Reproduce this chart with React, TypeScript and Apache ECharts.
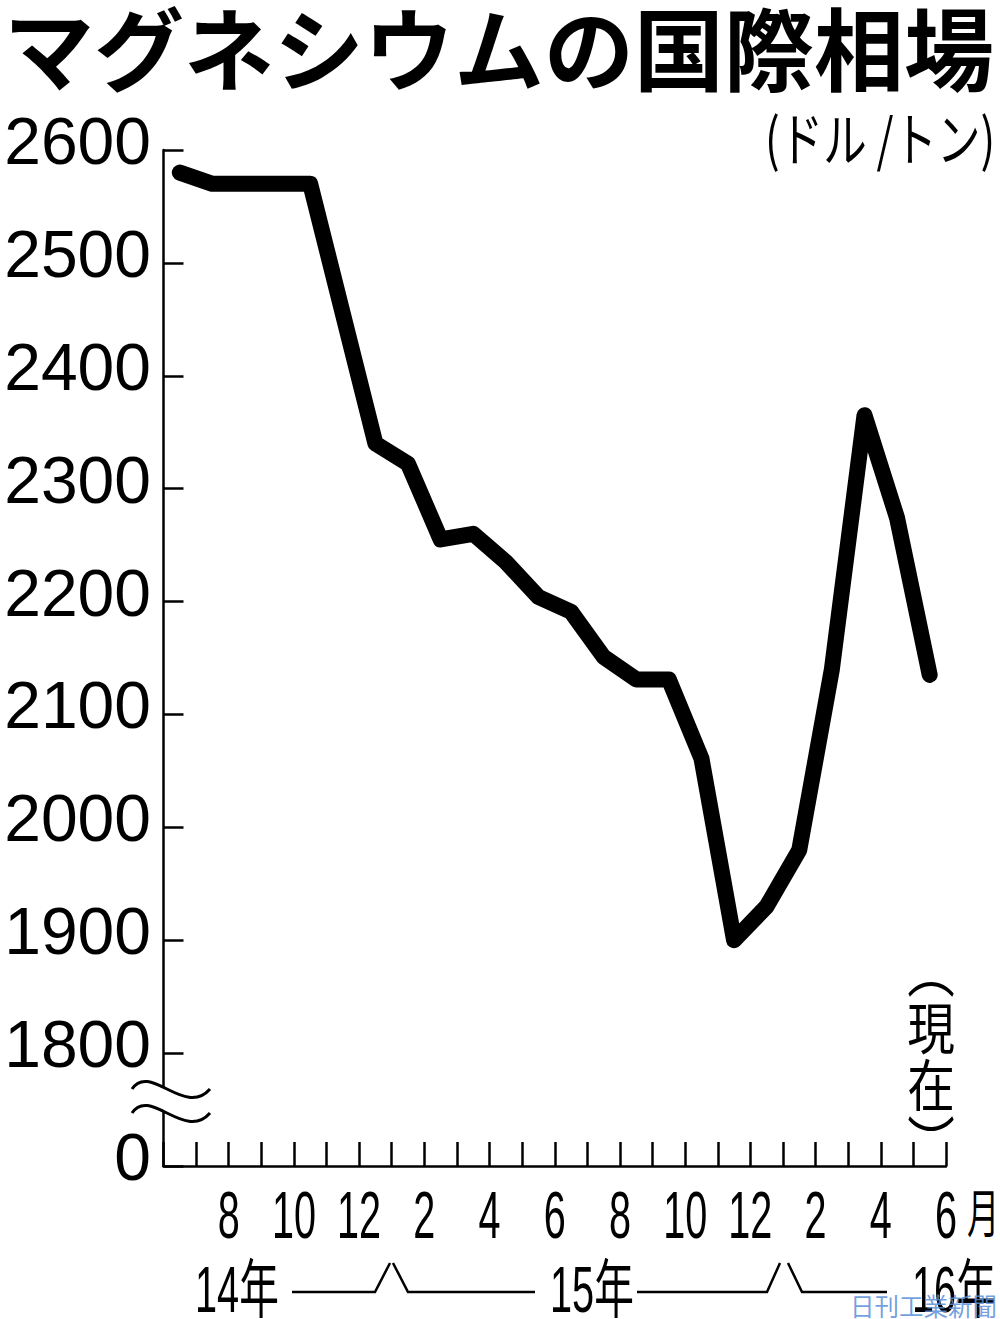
import React, { useEffect, useRef } from 'react';
import * as echarts from 'echarts';

// month index (0 = start of Jun 2014); points sit mid-month
const monthPos = [0.5, 1.5, 2.5, 3.5, 4.5, 6.5, 7.5, 8.5, 9.5, 10.5, 11.5, 12.5, 13.5, 14.5, 15.5, 16.5, 17.5, 18.5, 19.5, 20.5, 21.5, 22.5, 23.5];
const prices = [2580, 2570, 2570, 2570, 2570, 2340, 2322, 2255, 2260, 2235, 2204, 2191, 2151, 2131, 2131, 2061, 1900, 1930, 1980, 2140, 2365, 2274, 2135];
const xTickLabels = ['', '', '8', '', '10', '', '12', '', '2', '', '4', '', '6', '', '8', '', '10', '', '12', '', '2', '', '4', '', '6'];
const yTickValues = [1700, 1800, 1900, 2000, 2100, 2200, 2300, 2400, 2500, 2600];
const yBreakValue = 1700; // drawn as "0" below the axis break
const yMax = 2600;
const yStep = 100;
const title = 'マグネシウムの国際相場';
const unit = '(ドル /トン)';
const yearLabels = ['14年', '15年', '16年'];

const CJK = "'Noto Sans CJK JP', sans-serif";
const LAT = "'Liberation Sans', Arial, sans-serif";

export default function App() {
  const ref = useRef<HTMLDivElement>(null);
  useEffect(() => {
    const chart = echarts.init(ref.current!, null, { renderer: 'svg' });
    const lineW = 2.5;
    chart.setOption({
      animation: false,
      backgroundColor: '#fff',
      grid: { left: 163.5, right: 54, top: 150, bottom: 153, containLabel: false },
      xAxis: {
        type: 'value', min: 0, max: xTickLabels.length - 1, interval: 1,
        axisLine: { show: true, lineStyle: { color: '#000', width: lineW } },
        axisTick: { show: true, inside: true, length: 24, lineStyle: { color: '#000', width: lineW } },
        axisLabel: { show: false },
        splitLine: { show: false },
      },
      yAxis: {
        type: 'value', min: yBreakValue, max: yMax, interval: yStep,
        axisLine: { show: true, lineStyle: { color: '#000', width: lineW } },
        axisTick: { show: true, inside: true, length: 20, lineStyle: { color: '#000', width: lineW } },
        axisLabel: { show: false },
        splitLine: { show: false },
      },
      series: [{
        type: 'line',
        data: monthPos.map((m, i) => [m, prices[i]]),
        symbol: 'none',
        lineStyle: { color: '#000', width: 16, cap: 'round', join: 'round' },
        z: 3,
      }],
    });

    const yearText = (text: string, x: number) => ({
      type: 'text', x, y: 1290, scaleX: 0.62,
      style: { text, fontSize: 64, fontFamily: "'Liberation Sans', 'Noto Sans CJK JP', sans-serif", fill: '#000', align: 'left', verticalAlign: 'middle' },
    });
    const bracket = (pts: number[][]) => ({
      type: 'polyline', shape: { points: pts }, style: { stroke: '#000', lineWidth: lineW, fill: null },
    });
    const wave = (dy: number) => ({
      type: 'bezierCurve', z: 10,
      shape: { x1: 132, y1: 1089 + dy, cpx1: 150, cpy1: 1062 + dy, cpx2: 185, cpy2: 1118 + dy, x2: 210, y2: 1089 + dy },
      style: { stroke: '#000', lineWidth: 3, fill: null },
    });

    // axis labels placed through the axes' own scales
    const xLabelEls: any[] = [];
    xTickLabels.forEach((lab, i) => {
      if (!lab) return;
      const px = chart.convertToPixel({ xAxisIndex: 0 }, i) as number;
      xLabelEls.push({
        type: 'text', x: px, y: 1216, scaleX: 0.6,
        style: { text: lab, fontSize: 66, fontFamily: LAT, fill: '#000', align: 'center', verticalAlign: 'middle' },
      });
    });
    const yLabelEls = yTickValues.map((v) => {
      const py = chart.convertToPixel({ yAxisIndex: 0 }, v) as number;
      return {
        type: 'text', x: 151, y: py - 9,
        style: { text: v === yBreakValue ? '0' : String(v), fontSize: 66, fontFamily: LAT, fill: '#000', align: 'right', verticalAlign: 'middle' },
      };
    });

    chart.setOption({
      graphic: [
        { type: 'text', x: 4, y: 0, style: { text: title, fontSize: 90, fontWeight: 'bold', fontFamily: CJK, fill: '#000', align: 'left', verticalAlign: 'top' } },
        { type: 'text', x: 765, y: 136, scaleX: 0.75, style: { text: unit, fontSize: 58, fontFamily: CJK, fill: '#000', align: 'left', verticalAlign: 'middle' } },
        { type: 'text', x: 931, y: 939, scaleX: 0.85, style: { text: '︵\n現\n在\n︶', fontSize: 56, lineHeight: 57, fontFamily: CJK, fill: '#000', align: 'center', verticalAlign: 'top' } },
        { type: 'text', x: 967, y: 1184, scaleX: 0.62, style: { text: '月', fontSize: 52, fontFamily: CJK, fill: '#000', align: 'left', verticalAlign: 'top' } },
        ...xLabelEls,
        ...yLabelEls,
        yearText(yearLabels[0], 195),
        yearText(yearLabels[1], 550),
        yearText(yearLabels[2], 912),
        bracket([[292, 1292], [375, 1292], [390, 1263]]),
        bracket([[393, 1263], [408, 1292], [535, 1292]]),
        bracket([[637, 1292], [767, 1292], [780, 1263]]),
        bracket([[788, 1263], [802, 1292], [887, 1292]]),
        { type: 'rect', z: 9, shape: { x: 155, y: 1087, width: 18, height: 24 }, style: { fill: '#fff' } },
        wave(0),
        wave(24),
        { type: 'text', x: 850, y: 1305, style: { text: '日刊工業新聞', fontSize: 24.5, fontFamily: CJK, fill: '#5b8fd9', opacity: 0.85, align: 'left', verticalAlign: 'middle' } },
      ],
    });
    return () => chart.dispose();
  }, []);
  return <div ref={ref} style={{ position: 'absolute', left: 0, top: 0, width: 1000, height: 1319 }} />;
}
